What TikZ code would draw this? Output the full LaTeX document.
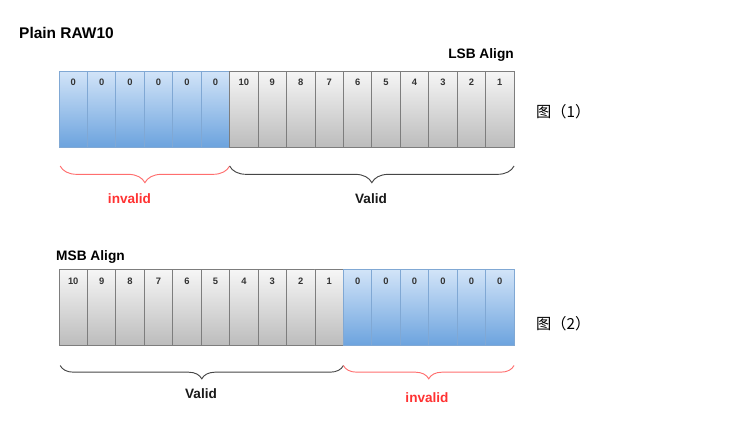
\documentclass[tikz,border=0pt]{standalone}
\usepackage{fontspec}
\setmainfont{Liberation Sans}
\newfontfamily\cjkfont{Noto Sans CJK SC}
\usetikzlibrary{positioning,decorations.pathreplacing}
\definecolor{zerotop}{RGB}{210,228,248}
\definecolor{zerobot}{RGB}{108,163,222}
\definecolor{zeroline}{RGB}{128,168,212}
\definecolor{validtop}{RGB}{246,246,246}
\definecolor{validbot}{RGB}{188,188,188}
\definecolor{validline}{RGB}{125,125,125}
\definecolor{badred}{RGB}{255,50,50}
\definecolor{badbrace}{RGB}{255,110,110}
\definecolor{okbrace}{RGB}{70,70,70}
\tikzset{
  cellbase/.style={draw,inner sep=0pt,outer sep=0pt,line width=0.7pt,minimum width=0.8531cm,
                   text height=0.44cm,text depth=1.84cm,anchor=north west,
                   font=\fontsize{8}{9}\selectfont\bfseries,text=black!80},
  bitv/.style    ={cellbase,top color=validtop,bottom color=validbot,draw=validline},
  bitz/.style    ={cellbase,top color=zerotop,bottom color=zerobot,draw=zeroline},
  brc/.style     ={decorate,decoration={brace,mirror,amplitude=#1},line width=0.8pt},
  ttl/.style     ={font=\fontsize{13.2}{15}\selectfont\bfseries,inner sep=0pt},
  hdr/.style     ={font=\fontsize{11.7}{14}\selectfont\bfseries,inner sep=0pt},
  lbl/.style     ={font=\fontsize{11.6}{14}\selectfont\bfseries,inner sep=0pt},
  fig/.style     ={font=\cjkfont\fontsize{13}{15}\selectfont,inner sep=0pt},
}

\begin{document}
\begin{tikzpicture}[x=0.03cm,y=-0.03cm]
  \useasboundingbox (0,0) rectangle (735,437);
  \node[ttl,anchor=west] (title) at (19,33) {Plain RAW10};
  % LSB aligned row
  \node[hdr,anchor=east] (lsb) at (514,55) {LSB Align};
  \foreach \s/\v [count=\i] in {bitz/0,bitz/0,bitz/0,bitz/0,bitz/0,bitz/0,
      bitv/10,bitv/9,bitv/8,bitv/7,bitv/6,bitv/5,bitv/4,bitv/3,bitv/2,bitv/1}
    \node[\s] (a\i) at ({59+(\i-1)*28.44},71) {\v};
  \node[fig,anchor=west] (fig1) at (536,112) {图（1）};
  \coordinate (a0l) at ([xshift=1pt,yshift=-0.57cm]a1.south west);
  \coordinate (a6r) at ([yshift=-0.57cm]a6.south east);
  \coordinate (a16r) at ([yshift=-0.57cm]a16.south east);
  \draw[brc=0.5cm,badbrace] (a0l) -- (a6r);
  \draw[brc=0.5cm,okbrace] (a6r) -- (a16r);
  \node[lbl,text=badred] (bad1) at (129.5,199) {invalid};
  \node[lbl,text=black!90] (ok1) at (371,199) {Valid};
  % MSB aligned row
  \node[hdr,anchor=west] (msb) at (56,257) {MSB Align};
  \foreach \s/\v [count=\i] in {bitv/10,bitv/9,bitv/8,bitv/7,bitv/6,bitv/5,bitv/4,bitv/3,bitv/2,bitv/1,
      bitz/0,bitz/0,bitz/0,bitz/0,bitz/0,bitz/0}
    \node[\s] (b\i) at ({59+(\i-1)*28.44},269.5) {\v};
  \node[fig,anchor=west] (fig2) at (536,324) {图（2）};
  \coordinate (b0l) at ([xshift=1pt,yshift=-0.6cm]b1.south west);
  \coordinate (b10r) at ([yshift=-0.6cm]b10.south east);
  \coordinate (b16r) at ([yshift=-0.6cm]b16.south east);
  \draw[brc=0.4cm,okbrace] (b0l) -- (b10r);
  \draw[brc=0.4cm,badbrace] (b10r) -- (b16r);
  \node[lbl,text=black!90] (ok2) at (201,394) {Valid};
  \node[lbl,text=badred] (bad2) at (427,398) {invalid};
\end{tikzpicture}
\end{document}
